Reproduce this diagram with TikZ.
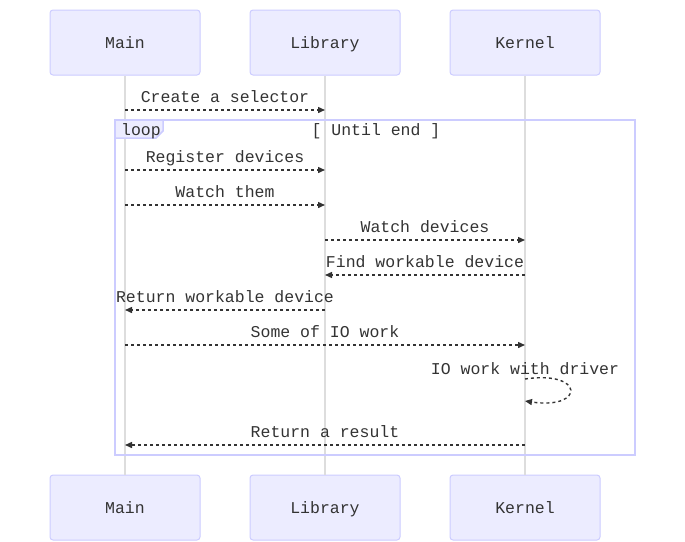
\documentclass[tikz,border=0pt]{standalone}
\usepackage{fontspec}
\setmonofont{Liberation Mono}
\usetikzlibrary{arrows.meta}
\definecolor{actfill}{HTML}{ECECFF}
\definecolor{actdraw}{HTML}{CCCCFF}
\definecolor{txt}{HTML}{333333}
\definecolor{lifec}{HTML}{DDDDDD}
\tikzset{
  actor/.style={draw=actdraw, fill=actfill, line width=1pt, rounded corners=3pt,
    minimum width=150pt, minimum height=65pt, inner sep=0pt,
    text height=11pt, text depth=0pt,
    font=\ttfamily\fontsize{16.5}{19}\selectfont, text=txt},
  life/.style={draw=lifec, line width=1.5pt},
  msg/.style={draw=txt, line width=1.4pt, dash pattern=on 3pt off 3pt,
    -{Triangle[length=7pt,width=6pt]}},
  lbl/.style={font=\ttfamily\fontsize{16.5}{19}\selectfont, text=txt, inner sep=0pt,
    text height=10pt, text depth=2pt},
  loopbox/.style={draw=actdraw, line width=1.5pt},
}
\begin{document}
\begin{tikzpicture}[x=1pt,y=-1pt]
\useasboundingbox (0,0) rectangle (685,541);
% actors
\node[actor] (mainT) at (125,42.5) {Main};
\node[actor] (libT) at (325,42.5) {Library};
\node[actor] (kerT) at (525,42.5) {Kernel};
\node[actor] (mainB) at (125,507.5) {Main};
\node[actor] (libB) at (325,507.5) {Library};
\node[actor] (kerB) at (525,507.5) {Kernel};
% lifelines
\draw[life] (mainT.south) -- (mainB.north);
\draw[life] (libT.south) -- (libB.north);
\draw[life] (kerT.south) -- (kerB.north);
% loop frame
\draw[loopbox] (115,120) rectangle (635,455);
\draw[loopbox, fill=actfill] (115,120) -- (163,120) -- (163,131) -- (156,138) -- (115,138) -- cycle;
\node[lbl] (looplbl) at (141,131.5) {loop};
\node[lbl] (loopcond) at (376,131.5) {[ Until end ]};
% endpoint coordinates
\coordinate (m1) at (125,110); \coordinate (l1) at (325,110);
\coordinate (m2) at (125,170); \coordinate (l2) at (325,170);
\coordinate (m3) at (125,205); \coordinate (l3) at (325,205);
\coordinate (l4) at (325,240); \coordinate (k4) at (525,240);
\coordinate (k5) at (525,275); \coordinate (l5) at (325,275);
\coordinate (l6) at (325,310); \coordinate (m6) at (125,310);
\coordinate (m7) at (125,345); \coordinate (k7) at (525,345);
\coordinate (k8a) at (525,379); \coordinate (k8b) at (525,401);
\coordinate (k9) at (525,445); \coordinate (m9) at (125,445);
% messages
\draw[msg] (m1) -- node[lbl, above=5pt] (t1) {Create a selector} (l1);
\draw[msg] (m2) -- node[lbl, above=5pt] (t2) {Register devices} (l2);
\draw[msg] (m3) -- node[lbl, above=5pt] (t3) {Watch them} (l3);
\draw[msg] (l4) -- node[lbl, above=5pt] (t4) {Watch devices} (k4);
\draw[msg] (k5) -- node[lbl, above=5pt] (t5) {Find workable device} (l5);
\draw[msg] (l6) -- node[lbl, above=5pt] (t6) {Return workable device} (m6);
\draw[msg] (m7) -- node[lbl, above=5pt] (t7) {Some of IO work} (k7);
\draw[msg] (k8a) .. controls (585,370) and (585,410) .. (k8b);
\node[lbl] (t8) at (525,370) {IO work with driver};
\draw[msg] (k9) -- node[lbl, above=5pt] (t9) {Return a result} (m9);
\end{tikzpicture}
\end{document}
